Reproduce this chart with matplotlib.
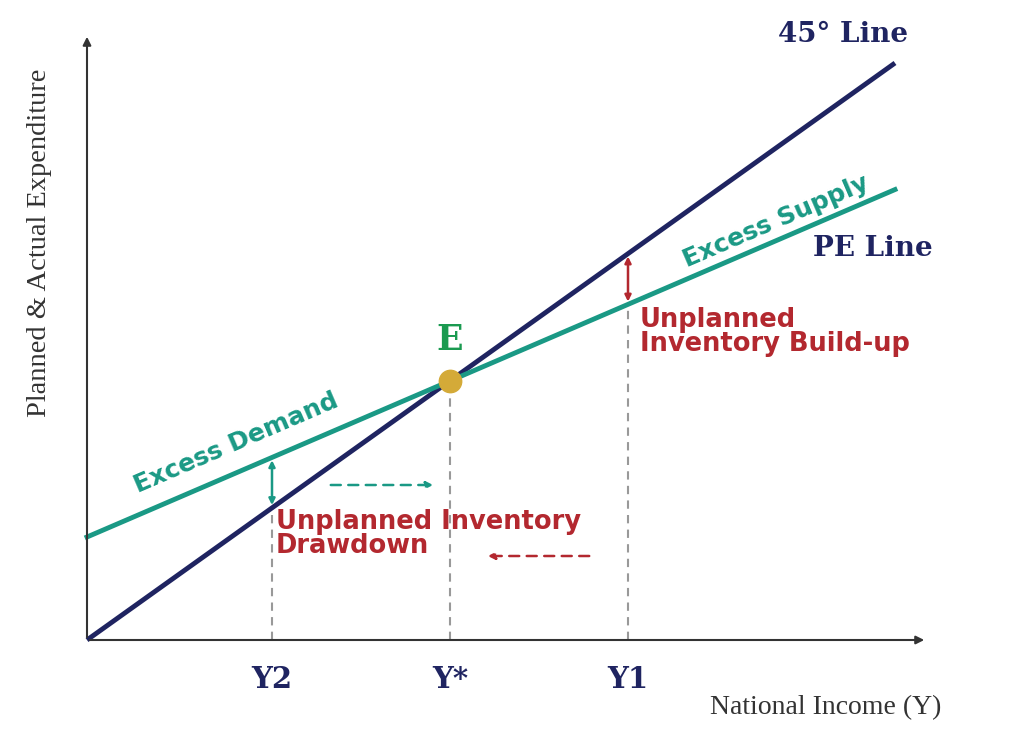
import matplotlib
matplotlib.use("Agg")
import matplotlib.pyplot as plt

# data (income units)
x45 = [0, 808]; y45 = [0, 577]
pe_x = [0, 808]; pe_intercept = 103; pe_slope = 0.43
ticks = {"Y2": 185, "Y*": 363, "Y1": 541}

navy = "#1f2461"; teal = "#1a9985"; red = "#b3282f"; gold = "#d4aa38"
fig = plt.figure(figsize=(10.24, 7.44), dpi=100)
ax = fig.add_axes([0, 0, 1, 1])
ax.set_xlim(-87, 937); ax.set_ylim(-104, 640); ax.axis("off")

pe = lambda x: pe_intercept + pe_slope * x
ax.plot(x45, y45, color=navy, lw=3.5, solid_capstyle="butt", zorder=3)
ax.plot(pe_x, [pe(v) for v in pe_x], color=teal, lw=3.5, zorder=3)

ax.annotate("", xy=(840, 0), xytext=(0, 0), arrowprops=dict(arrowstyle="-|>", color="#333", lw=1.5, mutation_scale=12))
ax.annotate("", xy=(0, 606), xytext=(0, 0), arrowprops=dict(arrowstyle="-|>", color="#333", lw=1.5, mutation_scale=12))

k = 577 / 808
tops = {"Y2": k * ticks["Y2"], "Y*": k * ticks["Y*"], "Y1": pe(ticks["Y1"])}
for lab, xv in ticks.items():
    ax.plot([xv, xv], [0, tops[lab]], ls=(0, (4, 3)), color="#999", lw=1.5, zorder=1)
    ax.text(xv, -40, lab, ha="center", va="center", fontsize=21, fontweight="bold",
            family="DejaVu Serif", color=navy)

xs = ticks["Y*"]
ax.scatter([xs], [k * xs], s=260, color=gold, zorder=5)
ax.text(xs, 300, "E", ha="center", va="center", fontsize=25, fontweight="bold", family="DejaVu Serif", color="#1a9a50")

ax.annotate("", xy=(ticks["Y2"], k * ticks["Y2"]), xytext=(ticks["Y2"], pe(ticks["Y2"])),
            arrowprops=dict(arrowstyle="<|-|>", color=teal, lw=1.8, mutation_scale=9))
ax.annotate("", xy=(ticks["Y1"], k * ticks["Y1"]), xytext=(ticks["Y1"], pe(ticks["Y1"])),
            arrowprops=dict(arrowstyle="<|-|>", color=red, lw=1.8, mutation_scale=9))
ax.annotate("", xy=(349, 155), xytext=(241, 155),
            arrowprops=dict(arrowstyle="-|>", color=teal, lw=1.8, ls=(0, (4, 3)), mutation_scale=10))
ax.annotate("", xy=(398, 84), xytext=(505, 84),
            arrowprops=dict(arrowstyle="-|>", color=red, lw=1.8, ls=(0, (4, 3)), mutation_scale=10))

ax.text(756, 605, "45° Line", ha="center", va="center", fontsize=20, fontweight="bold", family="DejaVu Serif", color=navy)
ax.text(786, 392, "PE Line", ha="center", va="center", fontsize=20, fontweight="bold", family="DejaVu Serif", color=navy)
ax.text(149, 197, "Excess Demand", ha="center", va="center", fontsize=18, fontweight="bold", rotation=23.3, color=teal)
ax.text(689, 419, "Excess Supply", ha="center", va="center", fontsize=18, fontweight="bold", rotation=23.3, color=teal)
ax.text(553, 333, "Unplanned\nInventory Build-up", ha="left", va="top", fontsize=18.5, fontweight="bold", color=red, linespacing=0.9)
ax.text(189, 131, "Unplanned Inventory\nDrawdown", ha="left", va="top", fontsize=18.5, fontweight="bold", color=red, linespacing=0.9)
ax.text(739, -68, "National Income (Y)", ha="center", va="center", fontsize=20, family="Liberation Serif", color="#333")
ax.text(-47, 397, "Planned & Actual Expenditure", ha="center", va="center", rotation=90, fontsize=20.5, family="Liberation Serif", color="#333")

fig.savefig("out.png", dpi=100)
